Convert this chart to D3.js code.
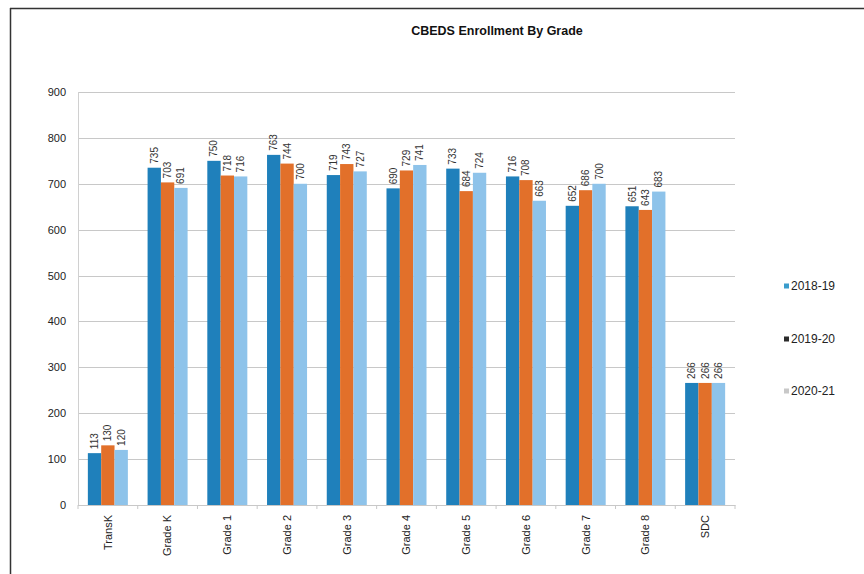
<!DOCTYPE html>
<html><head><meta charset="utf-8">
<script src="https://cdn.jsdelivr.net/npm/d3@7"></script>
<style>body{margin:0;background:#fff}svg{display:block}text{font-family:"Liberation Sans",Arial,sans-serif}</style>
</head><body><svg id="c" width="864" height="574"></svg>
<script>
const categories = ["TransK","Grade K","Grade 1","Grade 2","Grade 3","Grade 4","Grade 5","Grade 6","Grade 7","Grade 8","SDC"];
const seriesNames = ["2018-19","2019-20","2020-21"];
const v2018 = [113,735,750,763,719,690,733,716,652,651,266];
const v2019 = [130,703,718,744,743,729,684,708,686,643,266];
const v2020 = [120,691,716,700,727,741,724,663,700,683,266];
const yTicks = [0,100,200,300,400,500,600,700,800,900];
const title = "CBEDS Enrollment By Grade";

const colors = ["#1f80bb","#e2702a","#8ec3ea"];
const legendColors = ["#3a9ccc","#2b2b2b","#c8c8c8"];
const series = [v2018, v2019, v2020];

const svg = d3.select("#c");
// frame
svg.append("line").attr("x1",10).attr("x2",864).attr("y1",8.5).attr("y2",8.5).attr("stroke","#333").attr("stroke-width",1.5);
svg.append("line").attr("x1",10.5).attr("x2",10.5).attr("y1",8).attr("y2",574).attr("stroke","#333").attr("stroke-width",1.5);

const m = {l:78, r:735, t:92, b:505};
const x = d3.scaleBand().domain(categories).range([m.l,m.r]).paddingInner(0.33).paddingOuter(0.165);
const xs = d3.scaleBand().domain(d3.range(3)).range([0,x.bandwidth()]);
const y = d3.scaleLinear().domain([0,900]).range([m.b,m.t]);

// gridlines
svg.append("g").selectAll("line").data(yTicks).join("line")
  .attr("x1",m.l).attr("x2",m.r).attr("y1",d=>Math.round(y(d))+0.5).attr("y2",d=>Math.round(y(d))+0.5)
  .attr("stroke","#c8c8c8").attr("stroke-width",1);
// y axis line
svg.append("line").attr("x1",m.l+0.5).attr("x2",m.l+0.5).attr("y1",m.t).attr("y2",m.b).attr("stroke","#d0d0d0");

// y axis labels
const yAxis = d3.axisLeft(y).tickValues(yTicks).tickSize(0).tickPadding(12);
const ya = svg.append("g").attr("transform",`translate(${m.l},0)`).call(yAxis);
ya.select(".domain").remove();
ya.selectAll("text").attr("font-size",11).attr("fill","#222").style("font-family","'Liberation Sans',Arial,sans-serif");

// x axis
const band = (m.r-m.l)/categories.length;
const xAxis = d3.axisBottom(x).tickSize(0).tickPadding(0);
const xa = svg.append("g").attr("transform",`translate(0,${m.b})`).call(xAxis);
xa.select(".domain").attr("stroke","#c8c8c8");
xa.selectAll("text").attr("font-size",11).attr("fill","#222").style("font-family","'Liberation Sans',Arial,sans-serif")
  .attr("transform","rotate(-90)").attr("text-anchor","end").attr("dy","0.35em").attr("x",-10).attr("y",0);
// small ticks between categories
svg.append("g").selectAll("line").data(d3.range(categories.length+1)).join("line")
  .attr("x1",i=>m.l+i*band).attr("x2",i=>m.l+i*band).attr("y1",m.b).attr("y2",m.b+4).attr("stroke","#c8c8c8");

// bars
const g = svg.append("g");
categories.forEach((c,ci)=>{
  series.forEach((s,si)=>{
    const bx = x(c)+xs(si);
    g.append("rect").attr("x",bx).attr("width",xs.bandwidth()).attr("y",y(s[ci])).attr("height",y(0)-y(s[ci])).attr("fill",colors[si]);
    g.append("text").attr("transform",`translate(${bx+xs.bandwidth()/2},${y(s[ci])-4}) rotate(-90)`)
      .attr("dy","0.35em").attr("font-size",10).attr("fill","#333").text(s[ci]);
  });
});

// title
svg.append("text").attr("x",497).attr("y",35).attr("text-anchor","middle").attr("font-size",12.5).attr("font-weight","bold").attr("fill","#111").text(title);

// legend
const ly = [286,339,391];
seriesNames.forEach((n,i)=>{
  svg.append("rect").attr("x",784).attr("y",ly[i]-2.5).attr("width",5).attr("height",5).attr("fill",legendColors[i]);
  svg.append("text").attr("x",791).attr("y",ly[i]).attr("dy","0.35em").attr("font-size",12).attr("fill","#222").text(n);
});
</script></body></html>
